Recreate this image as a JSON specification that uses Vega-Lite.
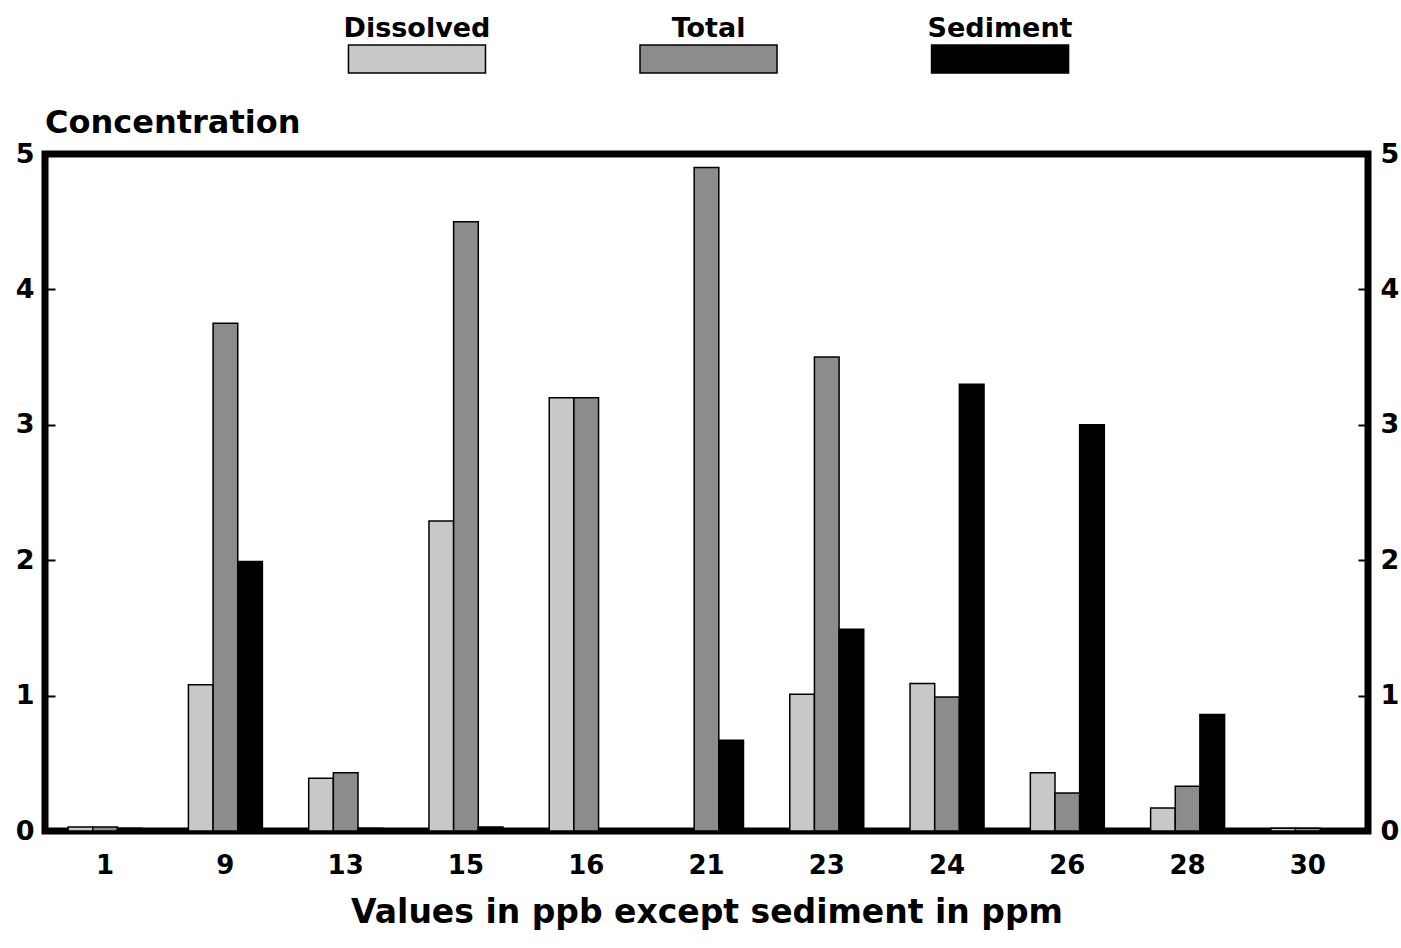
{
  "$schema": "https://vega.github.io/schema/vega-lite/v6.json",
  "background": "white",
  "padding": {"left": 11, "top": 15, "right": 5, "bottom": 5},
  "config": {
    "font": "DejaVu Sans",
    "view": {"stroke": "black", "strokeWidth": 7},
    "axis": {"domain": false, "grid": false, "labelFont": "DejaVu Sans", "labelFontWeight": "bold", "labelColor": "black", "titleColor": "black", "tickColor": "black"}
  },
  "spacing": 29,
  "vconcat": [
    {
      "width": 1323,
      "height": 28,
      "view": {"stroke": null},
      "data": {"values": [{"series": "Dissolved"}, {"series": "Total"}, {"series": "Sediment"}]},
      "encoding": {
        "x": {"field": "series", "type": "nominal", "sort": ["Dissolved", "Total", "Sediment"], "axis": null,
              "scale": {"paddingInner": 0, "paddingOuter": 0.769, "align": 0.5045}}
      },
      "layer": [
        {
          "mark": {"type": "bar", "width": {"band": 0.47}, "stroke": "black", "strokeWidth": 1.5},
          "encoding": {
            "color": {"field": "series", "type": "nominal", "legend": null,
                      "scale": {"domain": ["Dissolved", "Total", "Sediment"], "range": ["#c8c8c8", "#8c8c8c", "#000000"]}}
          }
        },
        {
          "mark": {"type": "text", "fontSize": 27, "fontWeight": "bold", "baseline": "alphabetic", "dy": -22, "color": "black"},
          "encoding": {"text": {"field": "series"}}
        }
      ]
    },
    {
      "width": 1323,
      "height": 677,
      "title": {"text": "Concentration", "anchor": "start", "frame": "group", "fontSize": 32, "fontWeight": "bold", "font": "DejaVu Sans", "color": "black", "offset": 0},
      "data": {"values": [
        {"site": "1", "series": "Dissolved", "value": 0.03},
        {"site": "1", "series": "Total", "value": 0.03},
        {"site": "1", "series": "Sediment", "value": 0.02},
        {"site": "9", "series": "Dissolved", "value": 1.08},
        {"site": "9", "series": "Total", "value": 3.75},
        {"site": "9", "series": "Sediment", "value": 1.99},
        {"site": "13", "series": "Dissolved", "value": 0.39},
        {"site": "13", "series": "Total", "value": 0.43},
        {"site": "13", "series": "Sediment", "value": 0.02},
        {"site": "15", "series": "Dissolved", "value": 2.29},
        {"site": "15", "series": "Total", "value": 4.5},
        {"site": "15", "series": "Sediment", "value": 0.03},
        {"site": "16", "series": "Dissolved", "value": 3.2},
        {"site": "16", "series": "Total", "value": 3.2},
        {"site": "16", "series": "Sediment", "value": 0},
        {"site": "21", "series": "Dissolved", "value": 0},
        {"site": "21", "series": "Total", "value": 4.9},
        {"site": "21", "series": "Sediment", "value": 0.67},
        {"site": "23", "series": "Dissolved", "value": 1.01},
        {"site": "23", "series": "Total", "value": 3.5},
        {"site": "23", "series": "Sediment", "value": 1.49},
        {"site": "24", "series": "Dissolved", "value": 1.09},
        {"site": "24", "series": "Total", "value": 0.99},
        {"site": "24", "series": "Sediment", "value": 3.3},
        {"site": "26", "series": "Dissolved", "value": 0.43},
        {"site": "26", "series": "Total", "value": 0.28},
        {"site": "26", "series": "Sediment", "value": 3.0},
        {"site": "28", "series": "Dissolved", "value": 0.17},
        {"site": "28", "series": "Total", "value": 0.33},
        {"site": "28", "series": "Sediment", "value": 0.86},
        {"site": "30", "series": "Dissolved", "value": 0.02},
        {"site": "30", "series": "Total", "value": 0.02},
        {"site": "30", "series": "Sediment", "value": 0}
      ]},
      "encoding": {
        "x": {"field": "site", "type": "nominal", "sort": null,
              "scale": {"paddingInner": 0.385, "paddingOuter": 0.1925},
              "axis": {"title": "Values in ppb except sediment in ppm", "titleFontSize": 33, "titleFontWeight": "bold", "titleFont": "DejaVu Sans", "titlePadding": 18,
                       "labelFontSize": 26, "labelAngle": 0, "labelPadding": 21, "ticks": false}},
        "xOffset": {"field": "series", "type": "nominal", "sort": ["Dissolved", "Total", "Sediment"], "scale": {"paddingInner": 0, "paddingOuter": 0}}
      },
      "layer": [
        {
          "mark": {"type": "bar", "stroke": "black", "strokeWidth": 1.5},
          "encoding": {
            "y": {"field": "value", "type": "quantitative", "scale": {"domain": [0, 5], "nice": false},
                  "axis": {"orient": "left", "title": null, "values": [0, 1, 2, 3, 4, 5], "format": "d", "labelFontSize": 27, "tickSize": -10, "tickWidth": 2, "labelPadding": 21}},
            "color": {"field": "series", "type": "nominal", "legend": null,
                      "scale": {"domain": ["Dissolved", "Total", "Sediment"], "range": ["#c8c8c8", "#8c8c8c", "#000000"]}}
          }
        },
        {
          "mark": {"type": "bar", "opacity": 0},
          "encoding": {
            "y": {"field": "value", "type": "quantitative", "scale": {"domain": [0, 5], "nice": false},
                  "axis": {"orient": "right", "title": null, "values": [0, 1, 2, 3, 4, 5], "format": "d", "labelFontSize": 27, "tickSize": -10, "tickWidth": 2, "labelPadding": 22}}
          }
        }
      ],
      "resolve": {"scale": {"y": "independent"}}
    }
  ]
}
